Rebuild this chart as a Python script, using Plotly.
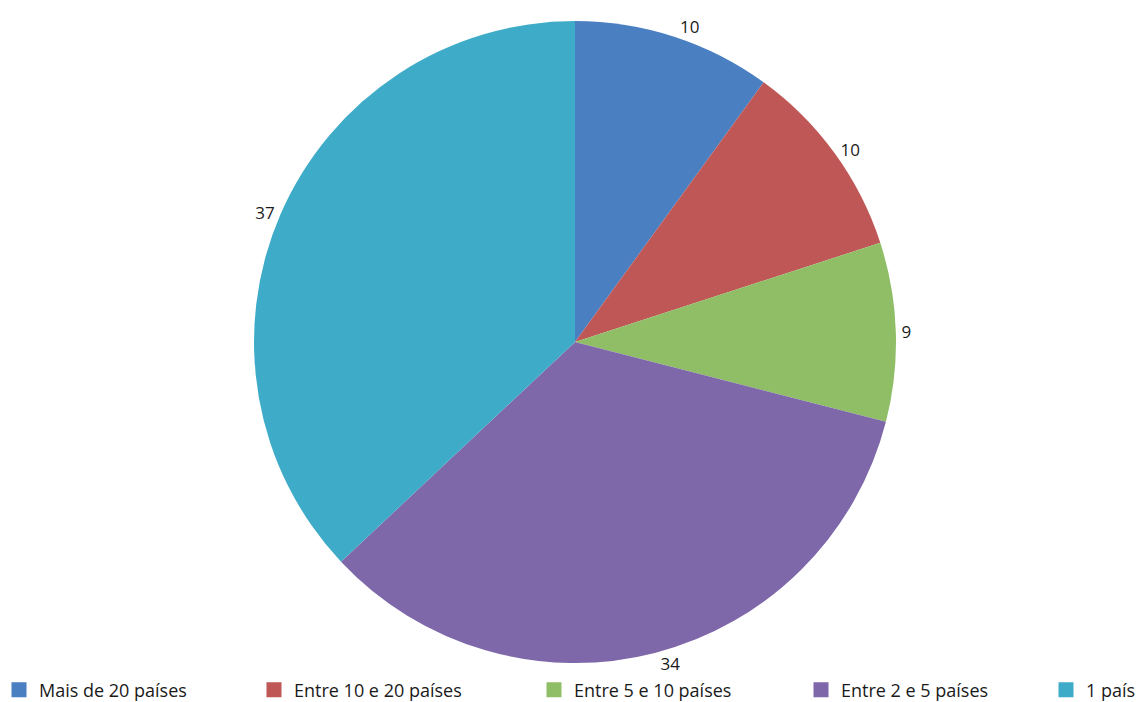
import plotly.graph_objects as go

categories = ["Mais de 20 países", "Entre 10 e 20 países", "Entre 5 e 10 países",
              "Entre 2 e 5 países", "1 país"]
values = [10, 10, 9, 34, 37]
colors = ["#4A7FC1", "#BE5755", "#8FBE67", "#7E68AA", "#3EABC8"]

W, H = 1141, 702
cx, cy, r = 575, 342, 321
legend_symbol_centers = [19, 274, 554, 821, 1075]  # px, legend entry symbol centres
legend_y = 690

fig = go.Figure()
fig.add_trace(go.Pie(
    labels=categories,
    values=values,
    sort=False,
    direction="clockwise",
    rotation=0,
    marker=dict(colors=colors, line=dict(width=0)),
    textinfo="value",
    textposition="outside",
    outsidetextfont=dict(size=17, color="#1a1a1a", family="Open Sans"),
    hoverinfo="label+value",
    showlegend=False,
    domain=dict(x=[(cx - r) / W, (cx + r) / W], y=[(H - cy - r) / H, (H - cy + r) / H]),
))

# legend entries, one legend per category so they sit at the reference's spacing
legend_layout = {}
n = len(categories)
for i, (name, col) in enumerate(zip(categories, colors)):
    lid = "legend" if i == 0 else f"legend{i + 1}"
    fig.add_trace(go.Scatter(
        x=[None], y=[None], mode="markers", name=name,
        marker=dict(symbol="square", size=15, color=col),
        legend=lid, showlegend=True, hoverinfo="skip",
    ))
    last = i == n - 1
    legend_layout[lid] = dict(
        orientation="h",
        xref="paper", yref="paper",
        x=1.0 if last else (legend_symbol_centers[i] - 20) / W,
        xanchor="right" if last else "left",
        y=(H - legend_y) / H, yanchor="middle",
        font=dict(size=18, color="#1a1a1a", family="Open Sans"),
        itemclick=False, itemdoubleclick=False,
        bgcolor="rgba(0,0,0,0)",
    )

fig.update_layout(
    width=W, height=H,
    margin=dict(l=0, r=0, t=0, b=0, autoexpand=False),
    paper_bgcolor="white",
    plot_bgcolor="white",
    font=dict(family="Open Sans", size=17, color="#1a1a1a"),
    xaxis=dict(visible=False),
    yaxis=dict(visible=False),
    **legend_layout,
)

fig.write_html("out.html")
